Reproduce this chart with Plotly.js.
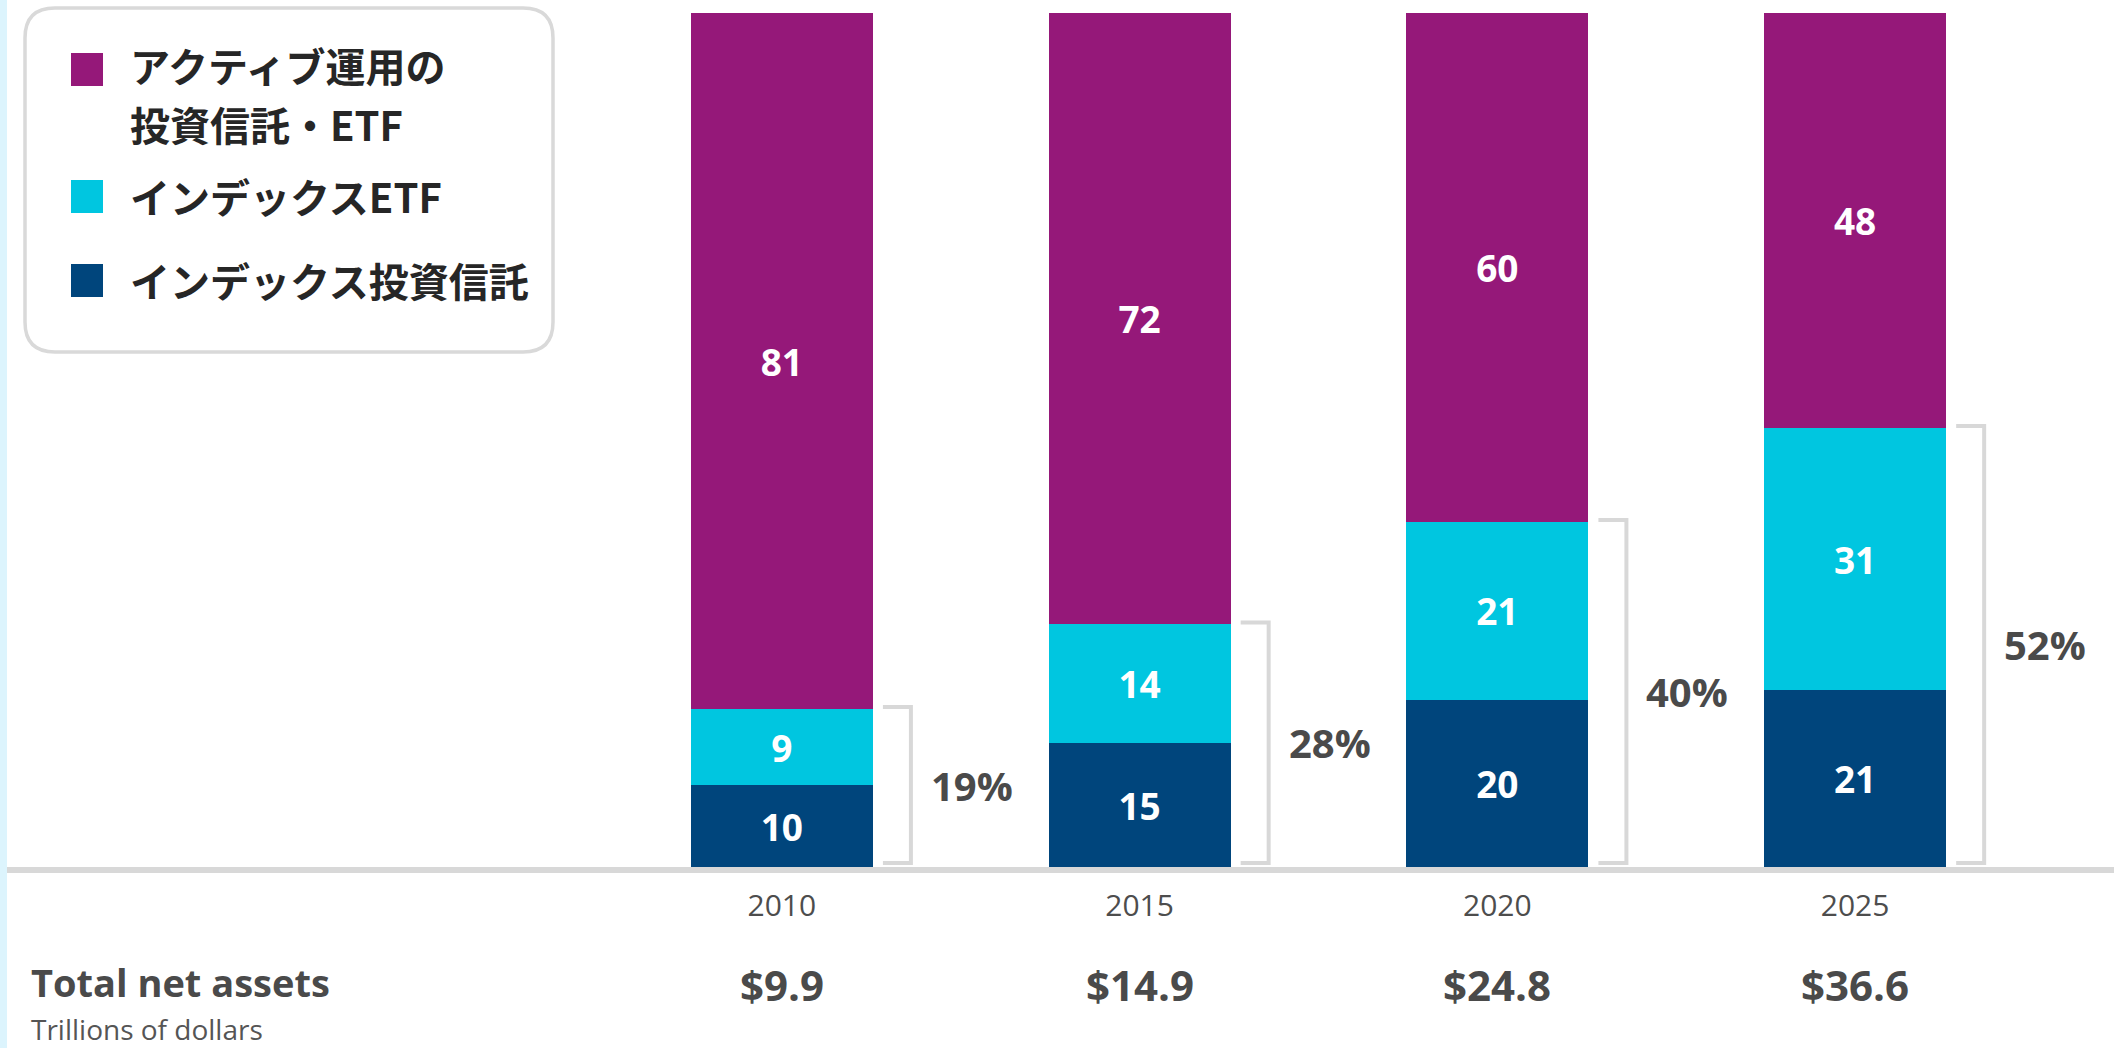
<!DOCTYPE html>
<html>
<head>
<meta charset="utf-8">
<script src="https://cdn.plot.ly/plotly-3.0.1.min.js"></script>
<style>
  html, body { margin: 0; padding: 0; background: #ffffff; }
  #chart { width: 2119px; height: 1048px; }
</style>
</head>
<body>
<div id="chart"></div>
<script>
// ---- data ----
const years = ['2010', '2015', '2020', '2025'];
const indexFunds = [9.6, 14.5, 19.6, 20.7];      // インデックス投資信託 (% of total)
const indexETFs = [8.9, 13.9, 20.8, 30.7];       // インデックスETF
const activeFunds = [81.5, 71.6, 59.6, 48.6];    // アクティブ運用の投資信託・ETF
const indexFundLabels = ['10', '15', '20', '21'];
const indexETFLabels = ['9', '14', '21', '31'];
const activeLabels = ['81', '72', '60', '48'];
const indexSharePct = ['19%', '28%', '40%', '52%'];
const totalNetAssets = ['$9.9', '$14.9', '$24.8', '$36.6'];
const seriesNames = ['アクティブ運用の<br>投資信託・ETF', 'インデックスETF', 'インデックス投資信託'];
const totalTitle = 'Total net assets';
const totalSubtitle = 'Trillions of dollars';

// ---- style ----
const W = 2119, H = 1048;
const plotL = 603, plotR = 2034, plotT = 13, plotB = 867;
const COL_ACTIVE = '#951879';
const COL_ETF = '#00c6e0';
const COL_FUND = '#00457c';
const GRAY_LINE = '#d8d8d8';
const TEXT_DARK = '#4a4a4a';
const LATIN = '"Open Sans", "Noto Sans", sans-serif';
const CJK = '"Noto Sans CJK JP", "Noto Sans", sans-serif';
const barFrac = 0.509;

const unitX = (plotR - plotL) / 4;       // px per category
const unitY = (plotB - plotT) / 100;     // px per data unit
const px = x => (x - plotL) / (plotR - plotL);   // pixel -> paper x
const py = y => (plotB - y) / (plotB - plotT);   // pixel -> paper y

const barText = {color: '#ffffff', size: 37, family: LATIN, weight: 700};
function barTrace(name, vals, labels, color) {
  return {
    type: 'bar', x: years, y: vals, name: name,
    text: labels, texttemplate: '%{text}',
    textposition: 'inside', insidetextanchor: 'middle',
    textangle: 0, constraintext: 'none',
    insidetextfont: barText,
    marker: {color: color, line: {width: 0}},
    hoverinfo: 'skip', showlegend: false
  };
}
const data = [
  barTrace(seriesNames[2], indexFunds, indexFundLabels, COL_FUND),
  barTrace(seriesNames[1], indexETFs, indexETFLabels, COL_ETF),
  barTrace(seriesNames[0], activeFunds, activeLabels, COL_ACTIVE)
];

const shapes = [];
const annotations = [];

// left light-blue strip
shapes.push({type: 'rect', xref: 'paper', yref: 'paper', x0: px(0), x1: px(7), y0: py(0), y1: py(H),
  fillcolor: '#dcf4fd', line: {width: 0}, layer: 'below'});
// baseline
shapes.push({type: 'line', xref: 'paper', yref: 'paper', x0: px(7), x1: px(2114), y0: py(870), y1: py(870),
  line: {color: GRAY_LINE, width: 6}});

// brackets and share labels
const half = barFrac / 2;
years.forEach((yr, i) => {
  const top = indexFunds[i] + indexETFs[i] + 2 / unitY;
  const bot = 4 / unitY;
  const xa = i + half + 10 / unitX;
  const xb = i + half + 38 / unitX;
  shapes.push({type: 'path', xref: 'x', yref: 'y',
    path: `M ${xa},${top} L ${xb},${top} L ${xb},${bot} L ${xa},${bot}`,
    line: {color: GRAY_LINE, width: 4}});
  annotations.push({xref: 'x', yref: 'y', x: i + half + 56 / unitX, y: (top + bot) / 2,
    xanchor: 'left', yanchor: 'middle', showarrow: false, text: indexSharePct[i],
    font: {family: LATIN, size: 40, color: TEXT_DARK, weight: 700}});
  annotations.push({xref: 'x', yref: 'paper', x: i, y: py(985),
    xanchor: 'center', yanchor: 'middle', showarrow: false, text: totalNetAssets[i],
    font: {family: LATIN, size: 42, color: TEXT_DARK, weight: 700}});
});

// total net assets caption
annotations.push({xref: 'paper', yref: 'paper', x: px(29), y: py(982), xanchor: 'left', yanchor: 'middle',
  showarrow: false, text: totalTitle, font: {family: LATIN, size: 38, color: TEXT_DARK, weight: 700}});
annotations.push({xref: 'paper', yref: 'paper', x: px(29), y: py(1029), xanchor: 'left', yanchor: 'middle',
  showarrow: false, text: totalSubtitle, font: {family: LATIN, size: 28, color: '#555555'}});

// legend box (rounded rectangle)
(function () {
  const x0 = 25, x1 = 553, y0 = 8, y1 = 352, r = 30;
  const P = (x, y) => `${px(x)},${py(y)}`;
  const path = `M ${P(x0 + r, y0)} L ${P(x1 - r, y0)} Q ${P(x1, y0)} ${P(x1, y0 + r)} ` +
    `L ${P(x1, y1 - r)} Q ${P(x1, y1)} ${P(x1 - r, y1)} L ${P(x0 + r, y1)} ` +
    `Q ${P(x0, y1)} ${P(x0, y1 - r)} L ${P(x0, y0 + r)} Q ${P(x0, y0)} ${P(x0 + r, y0)} Z`;
  shapes.push({type: 'path', xref: 'paper', yref: 'paper', path: path,
    fillcolor: '#ffffff', line: {color: '#d9d9d9', width: 3.5}});
})();
const legendItems = [
  {name: seriesNames[0], color: COL_ACTIVE, sq: 53, ty: [65, 124]},
  {name: seriesNames[1], color: COL_ETF, sq: 180, ty: [196]},
  {name: seriesNames[2], color: COL_FUND, sq: 264, ty: [280]}
];
legendItems.forEach(it => {
  shapes.push({type: 'rect', xref: 'paper', yref: 'paper', x0: px(71), x1: px(103), y0: py(it.sq), y1: py(it.sq + 33),
    fillcolor: it.color, line: {width: 0}});
  const lines = it.name.split('<br>');
  lines.forEach((ln, k) => {
    annotations.push({xref: 'paper', yref: 'paper', x: px(128), y: py(it.ty[k]), xanchor: 'left', yanchor: 'middle',
      align: 'left', showarrow: false, text: ln,
      font: {family: CJK, size: 40, color: '#262626', weight: 700}});
  });
});

const layout = {
  width: W, height: H,
  margin: {l: plotL, r: W - plotR, t: plotT, b: H - plotB, pad: 0},
  paper_bgcolor: '#ffffff', plot_bgcolor: 'rgba(0,0,0,0)',
  barmode: 'stack', bargap: 1 - barFrac,
  showlegend: false,
  xaxis: {type: 'category', range: [-0.5, 3.5], showgrid: false, zeroline: false, showline: false,
    ticks: '', ticklabelstandoff: 18, tickfont: {family: LATIN, size: 30, color: '#4d4d4d'}, fixedrange: true},
  yaxis: {range: [0, 100], visible: false, showgrid: false, zeroline: false, fixedrange: true},
  shapes: shapes,
  annotations: annotations,
  font: {family: LATIN}
};

Plotly.newPlot('chart', data, layout, {staticPlot: true, displayModeBar: false});
</script>
</body>
</html>
